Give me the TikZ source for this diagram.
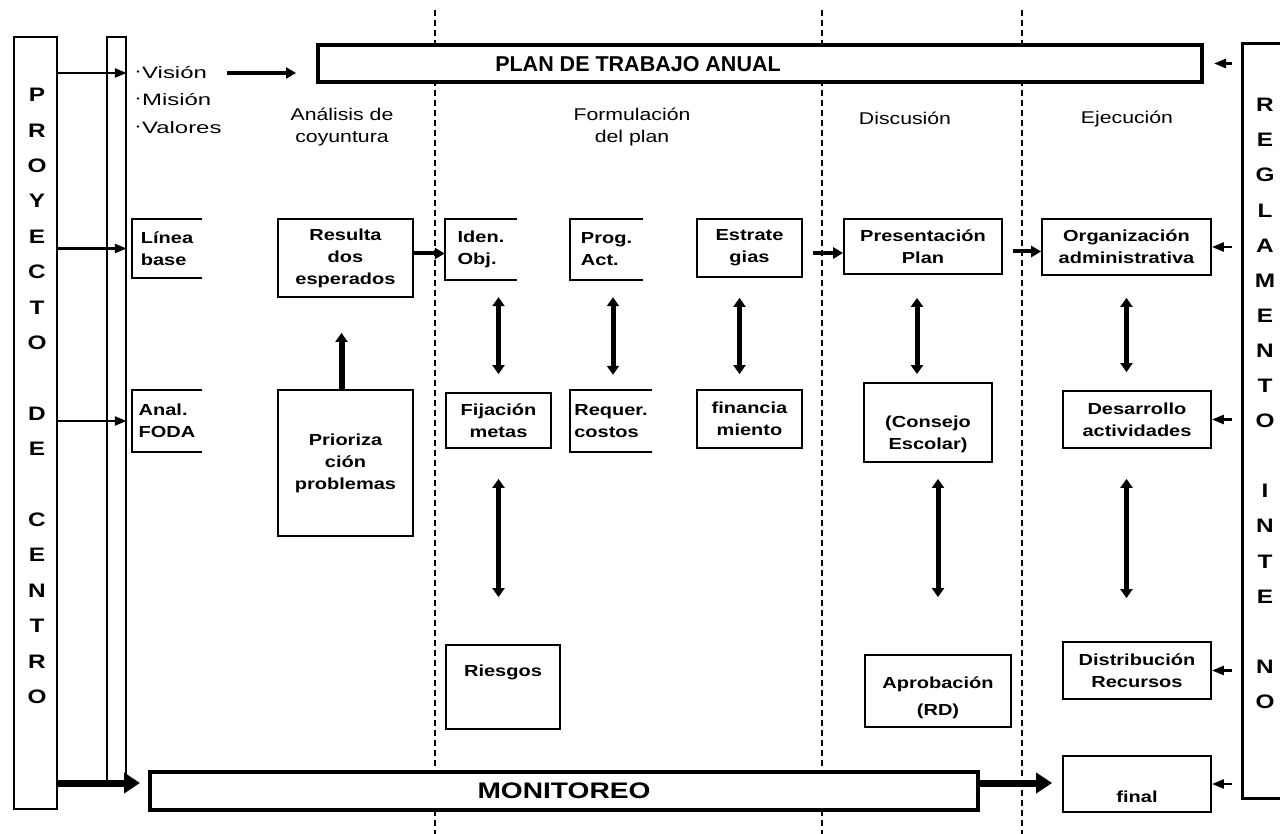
\documentclass[tikz,border=0pt]{standalone}
\usepackage{fontspec}
\setmainfont{Liberation Sans}
\newfontfamily\widefont{Liberation Sans}[FakeStretch=1.25]
\newfontfamily\widerfont{Liberation Sans}[FakeStretch=1.45]
\usetikzlibrary{arrows.meta,positioning,calc}

\begin{document}
\begin{tikzpicture}[x=1pt, y=-1pt,
    box/.style={rectangle, draw, line width=1.8pt, fill=white, align=center, inner sep=0pt, font=\widefont\bfseries\fontsize{16}{22}\selectfont},
    openbox/.style={rectangle, align=left, inner sep=0pt, font=\widefont\bfseries\fontsize{16}{22}\selectfont},
    bigbox/.style={rectangle, draw, line width=4pt, fill=white, inner sep=0pt},
    head/.style={align=center, font=\widefont\fontsize{17}{22}\selectfont},
    listitem/.style={anchor=west, inner sep=0pt, font=\widerfont\fontsize{16.5}{20}\selectfont},
    letter/.style={inner sep=0pt, font=\widefont\bfseries\fontsize{19.5}{20}\selectfont},
    sep/.style={line width=1.3pt, dash pattern=on 6pt off 4pt},
    arrow/.style={-{Triangle[length=12pt,width=9pt]}, line width=2.5pt},
    midarrow/.style={-{Triangle[length=10pt,width=11pt]}, line width=4pt},
    bigarrow/.style={-{Triangle[length=16pt,width=20pt]}, line width=7pt},
    dblarrow/.style={{Triangle[length=9pt,width=12pt]}-{Triangle[length=9pt,width=12pt]}, line width=5pt}
]
\useasboundingbox (0,0) rectangle (1280,834);

% Phase separators
\foreach \x in {435,822,1022}
    \draw[sep] (\x,10) -- (\x,834);

% Proyecto de centro
\node[rectangle, draw, line width=2.5pt, minimum width=43pt, minimum height=772pt, inner sep=0pt] (proy) at (35.5,423) {};
\foreach \ch [count=\i] in {P,R,O,Y,E,C,T,O,{},D,E,{},C,E,N,T,R,O}
    \node[letter] (pc\i) at (37,{95+35.4*(\i-1)}) {\ch};
\node[rectangle, draw, line width=1.5pt, minimum width=19pt, minimum height=746pt, inner sep=0pt] (strip) at (116.5,410) {};

% Reglamento interno
\node[rectangle, draw, line width=3pt, minimum width=70pt, minimum height=754pt, inner sep=0pt] (regl) at (1277,421) {};
\foreach \ch [count=\i] in {R,E,G,L,A,M,E,N,T,O,{},I,N,T,E,{},N,O}
    \node[letter] (rc\i) at (1265,{105+35.1*(\i-1)}) {\ch};

% Vision, mision, valores
\node[listitem] (vision) at (134,73) {\raisebox{.3ex}{·}Visión};
\node[listitem] (mision) at (134,100) {\raisebox{.3ex}{·}Misión};
\node[listitem] (valores) at (134,128) {\raisebox{.3ex}{·}Valores};

% Plan and monitoring
\node[bigbox, minimum width=884pt, minimum height=37pt] (plan) at (760,63.5) {};
\node[font=\bfseries\fontsize{21.5}{24}\selectfont] (plantxt) at (638,64) {PLAN DE TRABAJO ANUAL};
\node[bigbox, minimum width=828pt, minimum height=38pt, font=\widefont\bfseries\fontsize{22.5}{24}\selectfont] (moni) at (564,791) {MONITOREO};

% Phase titles
\node[head] (h1) at (342,127) {Análisis de\\coyuntura};
\node[head] (h2) at (632,127) {Formulación\\del plan};
\node[head] (h3) at (905,118) {Discusión};
\node[head] (h4) at (1127,119) {Ejecución};

% Diagnosis
\node[openbox, minimum width=70pt, minimum height=59pt] (linea) at (167,248.5) {Línea\\base};
\node[openbox, minimum width=70pt, minimum height=62pt] (foda) at (167,421) {Anal.\\FODA};
\node[box, minimum width=135pt, minimum height=78pt] (resul) at (345.5,258) {Resulta\\dos\\esperados};
\node[box, minimum width=135pt, minimum height=146pt] (prior) at (345.5,463) {Prioriza\\ción\\problemas};

% Formulation
\node[openbox, minimum width=72pt, minimum height=61pt] (iden) at (481,249.5) {Iden.\\Obj.};
\node[openbox, minimum width=73pt, minimum height=61pt] (prog) at (606.5,249.5) {Prog.\\Act.};
\node[box, minimum width=105pt, minimum height=58pt] (estr) at (749.5,248) {Estrate\\gias};
\node[box, minimum width=105pt, minimum height=55pt] (fij) at (498.5,420.5) {Fijación\\metas};
\node[openbox, minimum width=82pt, minimum height=62pt] (req) at (611,421) {Requer.\\costos};
\node[box, minimum width=105pt, minimum height=58pt] (finan) at (749.5,419) {financia\\miento};
\node[box, minimum width=114pt, minimum height=84pt] (ries) at (503,687) {Riesgos\\[10pt]\mbox{}};

% Discussion
\node[box, minimum width=158pt, minimum height=55pt] (pres) at (923,246.5) {Presentación\\Plan};
\node[box, minimum width=128pt, minimum height=79pt] (cons) at (928,422.5) {\mbox{}\\[14pt](Consejo\\Escolar)};
\node[box, minimum width=146pt, minimum height=72pt] (apro) at (938,691) {\mbox{}\\[4pt]Aprobación\\[5pt](RD)};

% Execution
\node[box, minimum width=169pt, minimum height=56pt] (org) at (1126.5,247) {Organización\\administrativa};
\node[box, minimum width=148pt, minimum height=57pt] (des) at (1137,419.5) {Desarrollo\\actividades};
\node[box, minimum width=148pt, minimum height=57pt] (dist) at (1137,670.5) {Distribución\\Recursos};
\node[box, minimum width=148pt, minimum height=56pt] (final) at (1137,784) {\mbox{}\\[16pt]final};

% Open boxes
\foreach \n in {linea,foda,iden,prog,req}
    \draw[line width=1.8pt] (\n.north east) -- (\n.north west) -- (\n.south west) -- (\n.south east);

% Arrows from proyecto
\draw[arrow] (proy.east |- vision.west) -- (strip.east |- vision.west);
\draw[arrow] (proy.east |- linea.west) -- (strip.east |- linea.west);
\draw[arrow] (proy.east |- foda.west) -- (strip.east |- foda.west);
\draw[midarrow, shorten <=20pt, shorten >=20pt] (vision.east) -- (plan.west |- vision.east);
\draw[bigarrow, shorten >=8pt] ([yshift=8pt]proy.east |- moni.west) -- ([yshift=8pt]moni.west);

% Arrows from reglamento
\draw[arrow, shorten <=9pt, shorten >=10pt] (regl.west |- plan.east) -- (plan.east);
\foreach \n in {org,des,dist,final}
    \draw[arrow, shorten <=9pt] (regl.west |- \n.east) -- (\n.east);

% Flow
\draw[midarrow] ([yshift=-4pt]iden.west -| resul.east) -- ([yshift=-4pt]iden.west);
\draw[midarrow, shorten <=10pt] ([yshift=-5pt]estr.east) -- ([yshift=-5pt]estr.east -| pres.west);
\draw[midarrow, shorten <=10pt] ([yshift=-5pt]pres.east) -- ([yshift=-5pt]pres.east -| org.west);
\draw[-{Triangle[length=9pt,width=12pt]}, line width=6pt, shorten >=35pt] ([xshift=-4pt]prior.north) -- ([xshift=-4pt]resul.south);
\draw[bigarrow, shorten >=10pt] ([yshift=8pt]moni.east) -- ([yshift=8pt]moni.east -| final.west);

% Double arrows
\draw[dblarrow, shorten <=17pt, shorten >=18pt] (fij.north |- iden.south) -- (fij.north);
\draw[dblarrow, shorten <=17pt, shorten >=15pt] ([xshift=2pt]req.north |- prog.south) -- ([xshift=2pt]req.north);
\draw[dblarrow, shorten <=20pt, shorten >=15pt] ([xshift=-10pt]estr.south) -- ([xshift=-10pt]finan.north);
\draw[dblarrow, shorten <=23pt, shorten >=8pt] ([xshift=-6pt]pres.south) -- ([xshift=-6pt]pres.south |- cons.north);
\draw[dblarrow, shorten <=22pt, shorten >=18pt] (org.south) -- (org.south |- des.north);
\draw[dblarrow, shorten <=30pt, shorten >=47pt] (fij.south) -- (fij.south |- ries.north);
\draw[dblarrow, shorten <=16pt, shorten >=57pt] (apro.north |- cons.south) -- (apro.north);
\draw[dblarrow, shorten <=30pt, shorten >=43pt] (org.south |- des.south) -- (org.south |- dist.north);

\end{tikzpicture}
\end{document}
